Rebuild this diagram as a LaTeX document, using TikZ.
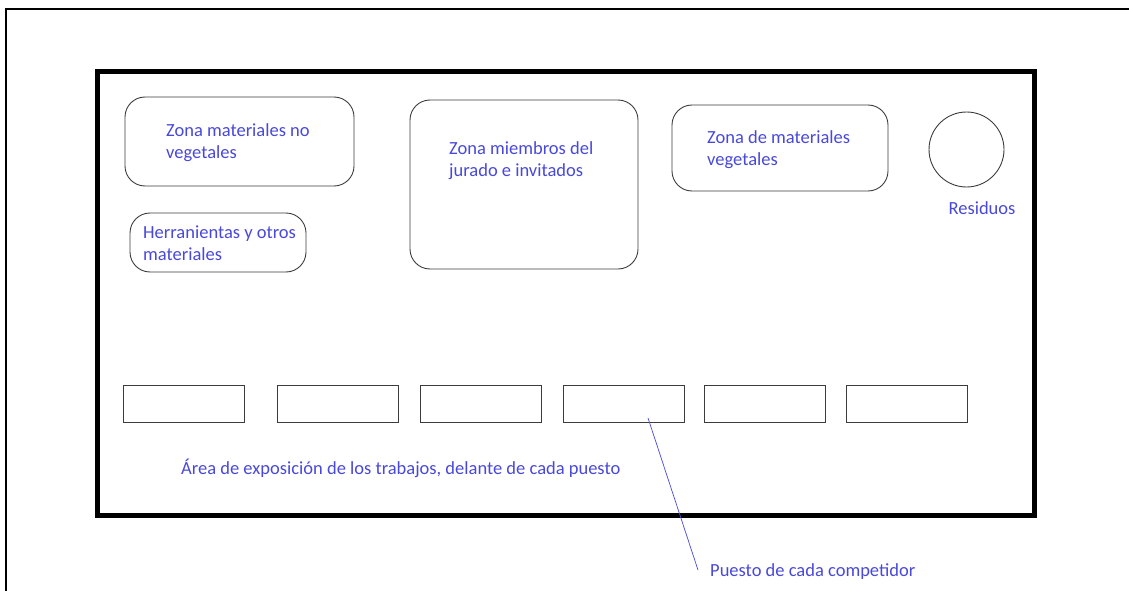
\documentclass[tikz,border=0pt]{standalone}
\usepackage{fontspec}
\setmainfont{Carlito}
\definecolor{plantext}{RGB}{72,72,218}
\definecolor{planline}{RGB}{60,60,60}

\begin{document}
\begin{tikzpicture}[x=1pt,y=-1pt,
	zone/.style={draw=planline,line width=0.9pt,rounded corners=20pt},
	puesto/.style={draw=planline,line width=1pt,minimum width=121pt,minimum height=37pt},
	etiqueta/.style={text=plantext,font=\fontsize{18.5}{22}\selectfont,align=left,inner sep=0pt}]
	\useasboundingbox (0,0) rectangle (1129,591);
	% marco exterior y recinto
	\draw[line width=2pt] (6,591) -- (6,9) -- (1129,9);
	\draw[line width=5pt] (97,72) rectangle (1034,515);
	% zonas
	\draw[zone] (125,97) rectangle (354,186);
	\draw[zone] (130,213) rectangle (306,272);
	\draw[zone] (410,100) rectangle (638,269);
	\draw[zone] (672,105) rectangle (888,191);
	\node[draw=planline,line width=0.9pt,circle,minimum size=75pt,inner sep=0pt] (residuos) at (966.5,149.5) {};
	\node[etiqueta,anchor=base west] (novegetales) at (166,158) {Zona materiales no\\vegetales};
	\node[etiqueta,anchor=base west] (herramientas) at (143,260) {Herranientas y otros\\materiales};
	\node[etiqueta,anchor=base west] (jurado) at (449,176) {Zona miembros del\\jurado e invitados};
	\node[etiqueta,anchor=base west] (vegetales) at (707,165) {Zona de materiales\\vegetales};
	\node[etiqueta,anchor=base] (residuostxt) at (982,214) {Residuos};
	% puestos
	\node[puesto] (p1) at (184,403.5) {};
	\node[puesto] (p2) at (338,403.5) {};
	\node[puesto] (p3) at (481,403.5) {};
	\node[puesto] (p4) at (623.5,403.5) {};
	\node[puesto] (p5) at (764.5,403.5) {};
	\node[puesto] (p6) at (906.5,403.5) {};
	\node[etiqueta,anchor=base west] (exposicion) at (181,474) {Área de exposición de los trabajos, delante de cada puesto};
	\node[etiqueta,anchor=base west] (competidor) at (710,576) {Puesto de cada competidor};
	\coordinate (punta) at (648,418);
	\coordinate (fin) at (698,570);
	\draw[plantext,line width=0.7pt] (punta) -- (fin);
\end{tikzpicture}
\end{document}
